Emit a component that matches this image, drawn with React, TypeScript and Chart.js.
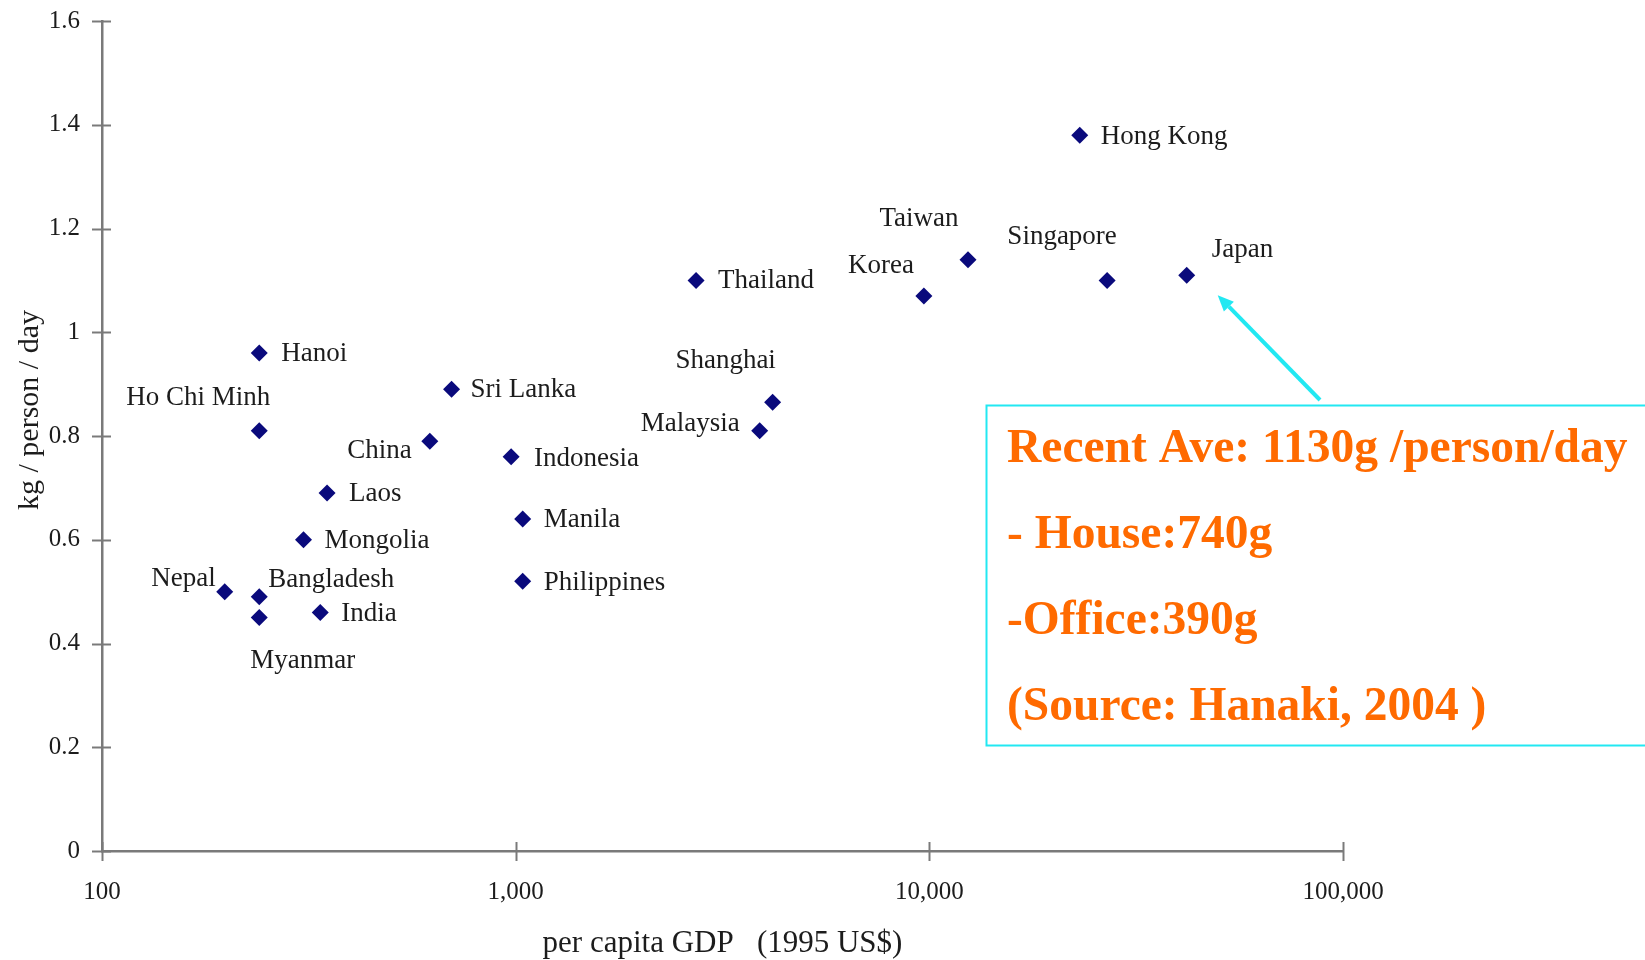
import React, { useEffect, useRef } from "react";
import { Chart, registerables } from "chart.js";

Chart.register(...registerables);

// ---------- data ----------
const cities = [
  "Hanoi", "Ho Chi Minh", "China", "Sri Lanka", "Laos", "Mongolia", "Nepal",
  "Bangladesh", "Myanmar", "India", "Indonesia", "Manila", "Philippines",
  "Thailand", "Shanghai", "Malaysia", "Korea", "Taiwan", "Singapore", "Japan", "Hong Kong",
];
const gdpUSD = [
  240, 240, 620, 700, 350, 307, 198,
  240, 240, 337, 975, 1040, 1040,
  2730, 4180, 3890, 9700, 12400, 26900, 41900, 23100,
];
const wasteKg = [
  0.96, 0.81, 0.79, 0.89, 0.69, 0.60, 0.50,
  0.49, 0.45, 0.46, 0.76, 0.64, 0.52,
  1.10, 0.865, 0.81, 1.07, 1.14, 1.10, 1.11, 1.38,
];
const xTickValues = [100, 1000, 10000, 100000];
const xTickLabels = ["100", "1,000", "10,000", "100,000"];
const yTickValues = [0, 0.2, 0.4, 0.6, 0.8, 1, 1.2, 1.4, 1.6];
const yTickLabels = ["0", "0.2", "0.4", "0.6", "0.8", "1", "1.2", "1.4", "1.6"];
const xTitle = "per capita GDP   (1995 US$)";
const yTitle = "kg / person / day";
const noteLines = [
  "Recent Ave: 1130g /person/day",
  "- House:740g",
  "-Office:390g",
  "(Source: Hanaki, 2004 )",
];
const arrowTarget = "Japan";

// ---------- label placement (style only) ----------
const labelAlign: CanvasTextAlign[] = [
  "left", "center", "right", "left", "left", "left", "right",
  "left", "left", "left", "left", "left", "left",
  "left", "center", "right", "right", "center", "center", "left", "left",
];
const labelDx = [22, -61, -18, 19, 22, 21, -9, 9, -9, 21, 23, 21, 21, 22, -47, -20, -10, -49, -45, 25, 21];
const labelDy = [1, -33, 10, 1, 1, 1, -13, -17, 43, 2, 2, 1, 2, 1, -41, -7, -30, -41, -43, -25, 2];

// ---------- styles ----------
const AXIS = "#7a7a7a";
const TEXT = "#1c1c1c";
const POINT = "#0a0a7c";
const CYAN = "#22e8f2";
const ORANGE = "#ff6a00";
const SERIF = "'Liberation Serif', 'Times New Roman', serif";

const overlay = {
  id: "overlay",
  afterDraw(chart: any) {
    const ctx: CanvasRenderingContext2D = chart.ctx;
    const xs = chart.scales.x;
    const ys = chart.scales.y;
    const area = chart.chartArea;
    ctx.save();

    // tick marks crossing the axes
    ctx.strokeStyle = AXIS;
    ctx.lineWidth = 2;
    ys.ticks.forEach((t: any) => {
      const y = Math.round(ys.getPixelForValue(t.value)) + 0.5;
      ctx.beginPath();
      ctx.moveTo(area.left - 10, y);
      ctx.lineTo(area.left + 9, y);
      ctx.stroke();
    });
    xs.ticks.forEach((t: any) => {
      const x = Math.round(xs.getPixelForValue(t.value)) + 0.5;
      ctx.beginPath();
      ctx.moveTo(x, area.bottom - 9);
      ctx.lineTo(x, area.bottom + 10);
      ctx.stroke();
    });

    // point labels
    ctx.fillStyle = TEXT;
    ctx.font = `27px ${SERIF}`;
    ctx.textBaseline = "middle";
    const meta = chart.getDatasetMeta(0);
    meta.data.forEach((pt: any, i: number) => {
      ctx.textAlign = labelAlign[i];
      ctx.fillText(cities[i], pt.x + labelDx[i], pt.y + labelDy[i]);
    });

    // axis titles
    ctx.font = `31px ${SERIF}`;
    ctx.textAlign = "center";
    ctx.textBaseline = "middle";
    ctx.fillText(xTitle, (area.left + area.right) / 2, 944);
    ctx.save();
    ctx.translate(30, 410);
    ctx.rotate(-Math.PI / 2);
    ctx.font = `30px ${SERIF}`;
    ctx.fillText(yTitle, 0, 0);
    ctx.restore();

    // annotation box
    const bx = 986, by = 405, bw = 700, bh = 340;
    ctx.strokeStyle = CYAN;
    ctx.lineWidth = 2;
    ctx.strokeRect(bx + 0.5, by + 0.5, bw, bh);
    ctx.fillStyle = ORANGE;
    ctx.font = `bold 47.5px ${SERIF}`;
    ctx.textAlign = "left";
    ctx.textBaseline = "alphabetic";
    noteLines.forEach((ln, i) => {
      ctx.fillText(ln, 1007, 462 + i * 86);
    });

    // arrow to Japan
    const j = cities.indexOf(arrowTarget);
    const jp = meta.data[j];
    const tipX = jp.x + 31, tipY = jp.y + 20;
    const tailX = 1320, tailY = 400;
    ctx.strokeStyle = CYAN;
    ctx.fillStyle = CYAN;
    ctx.lineWidth = 4;
    const ang = Math.atan2(tipY - tailY, tipX - tailX);
    const hl = 16, hw = 7;
    const bxp = tipX - hl * Math.cos(ang), byp = tipY - hl * Math.sin(ang);
    ctx.beginPath();
    ctx.moveTo(tailX, tailY);
    ctx.lineTo(bxp, byp);
    ctx.stroke();
    ctx.beginPath();
    ctx.moveTo(tipX, tipY);
    ctx.lineTo(bxp + hw * Math.sin(ang), byp - hw * Math.cos(ang));
    ctx.lineTo(bxp - hw * Math.sin(ang), byp + hw * Math.cos(ang));
    ctx.closePath();
    ctx.fill();

    ctx.restore();
  },
};

export default function App() {
  const ref = useRef<HTMLCanvasElement | null>(null);

  useEffect(() => {
    if (!ref.current) return;
    const chart = new Chart(ref.current, {
      type: "scatter",
      data: {
        datasets: [
          {
            label: "waste",
            data: gdpUSD.map((g, i) => ({ x: g, y: wasteKg[i] })),
            pointStyle: "rectRot",
            pointRadius: 8.5,
            pointHoverRadius: 8.5,
            backgroundColor: POINT,
            borderColor: POINT,
            borderWidth: 0,
          },
        ],
      },
      options: {
        animation: false,
        responsive: false,
        events: [],
        layout: { padding: { top: 21, right: 302, bottom: 0, left: 0 } },
        plugins: {
          legend: { display: false },
          tooltip: { enabled: false },
          title: { display: false },
        },
        scales: {
          x: {
            type: "logarithmic",
            min: 100,
            max: 100000,
            grid: { display: false, drawTicks: false },
            border: { display: true, color: AXIS, width: 2.5 },
            afterBuildTicks: (s: any) => {
              s.ticks = xTickValues.map((v) => ({ value: v }));
            },
            afterFit: (s: any) => {
              s.height = 109;
              s.paddingLeft = 0;
              s.paddingRight = 0;
            },
            ticks: {
              autoSkip: false,
              maxRotation: 0,
              padding: 26,
              color: TEXT,
              font: { family: SERIF, size: 25 },
              callback: (_v: any, i: number) => xTickLabels[i],
            },
          },
          y: {
            type: "linear",
            min: 0,
            max: 1.6,
            grid: { display: false, drawTicks: false },
            border: { display: true, color: AXIS, width: 2.5 },
            afterBuildTicks: (s: any) => {
              s.ticks = yTickValues.map((v) => ({ value: v }));
            },
            afterFit: (s: any) => {
              s.width = 102;
              s.paddingTop = 0;
              s.paddingBottom = 0;
            },
            ticks: {
              autoSkip: false,
              padding: 22,
              color: TEXT,
              font: { family: SERIF, size: 25 },
              callback: (_v: any, i: number) => yTickLabels[i],
            },
          },
        },
      },
      plugins: [overlay],
    });
    return () => chart.destroy();
  }, []);

  return (
    <div style={{ position: "absolute", left: 0, top: 0, width: 1645, height: 960, background: "#fff", overflow: "hidden" }}>
      <canvas ref={ref} width={1645} height={960} style={{ display: "block" }} />
    </div>
  );
}
